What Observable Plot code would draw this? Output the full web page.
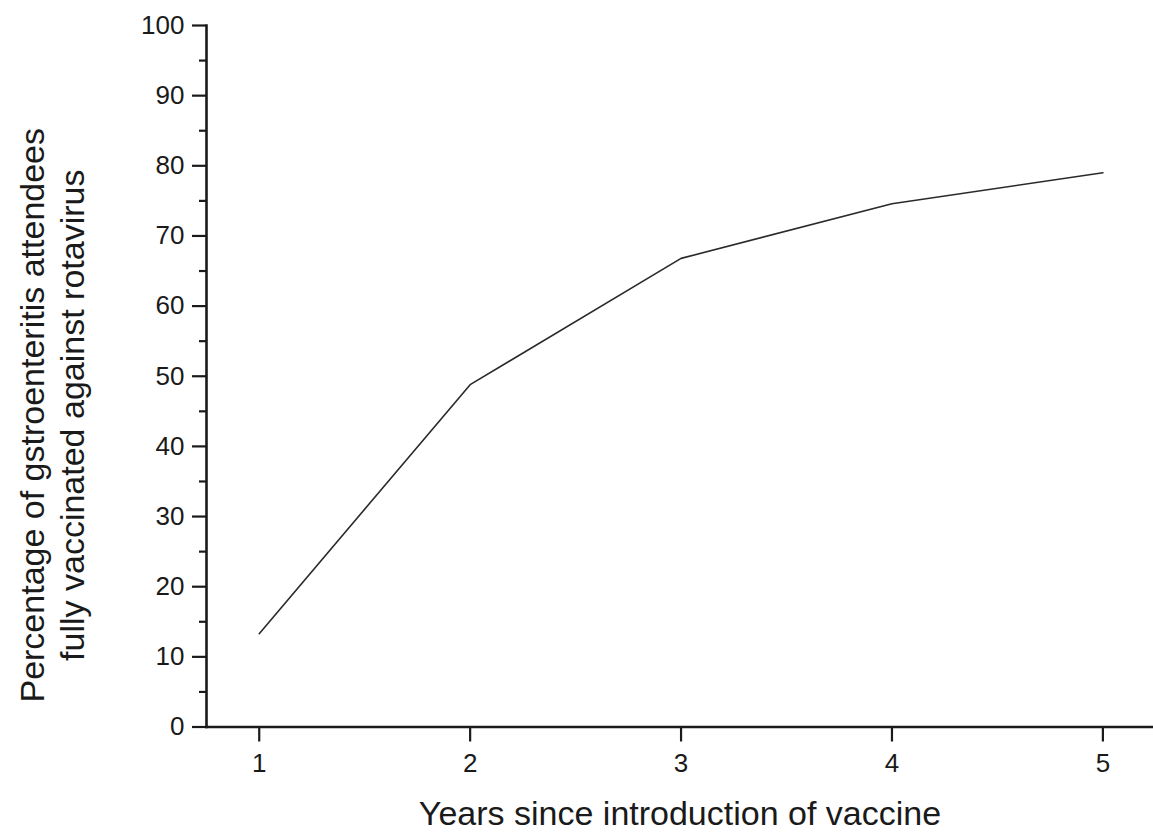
<!DOCTYPE html>
<html>
<head>
<meta charset="utf-8">
<script src="https://cdn.jsdelivr.net/npm/d3@7"></script>
<script src="https://cdn.jsdelivr.net/npm/@observablehq/plot@0.6"></script>
<style>
  html, body { margin: 0; padding: 0; background: #fff; }
</style>
</head>
<body>
<div id="chart"></div>
<script>
const years = [1, 2, 3, 4, 5];
const percentVaccinated = [13.3, 48.8, 66.8, 74.6, 79.0];
const yMajorTicks = [0, 10, 20, 30, 40, 50, 60, 70, 80, 90, 100];
const yMinorTicks = [5, 15, 25, 35, 45, 55, 65, 75, 85, 95];
const xTicks = [1, 2, 3, 4, 5];
const xTitle = "Years since introduction of vaccine";
const yTitleLines = ["Percentage of gstroenteritis attendees", "fully vaccinated against rotavirus"];

const data = years.map((yr, i) => ({year: yr, pct: percentVaccinated[i]}));

const chart = Plot.plot({
  width: 1153,
  height: 834,
  marginLeft: 206,
  marginRight: 0,
  marginTop: 25,
  marginBottom: 107.5,
  style: {fontFamily: "'Liberation Sans', Arial, Helvetica, sans-serif", color: "#1a1a1a", background: "#fff", overflow: "visible"},
  x: {domain: [0.75, 5.24]},
  y: {domain: [0, 100]},
  marks: [
    Plot.axisY(yMajorTicks, {tickSize: 14, tickPadding: 8, fontSize: 26, strokeWidth: 2.2, label: null, tickFormat: d => String(d)}),
    Plot.axisY(yMinorTicks, {tickSize: 7, text: null, strokeWidth: 2.2, label: null}),
    Plot.axisX(xTicks, {tickSize: 15, tickPadding: 12, fontSize: 26, strokeWidth: 2.2, label: null, tickFormat: d => String(d)}),
    Plot.frame({anchor: "left", strokeWidth: 2.6}),
    Plot.frame({anchor: "bottom", strokeWidth: 2.6}),
    Plot.line(data, {x: "year", y: "pct", stroke: "#2a2a2a", strokeWidth: 1.6}),
    Plot.text([xTitle], {frameAnchor: "bottom", dy: 87.5, lineAnchor: "middle", textAnchor: "middle", fontSize: 34, fill: "#1a1a1a"}),
    Plot.text([yTitleLines.join("\n")], {frameAnchor: "left", rotate: -90, dx: -155, dy: 39, lineAnchor: "middle", textAnchor: "middle", lineHeight: 1.18, fontSize: 34, fill: "#1a1a1a"})
  ]
});
document.getElementById("chart").appendChild(chart);
</script>
</body>
</html>
